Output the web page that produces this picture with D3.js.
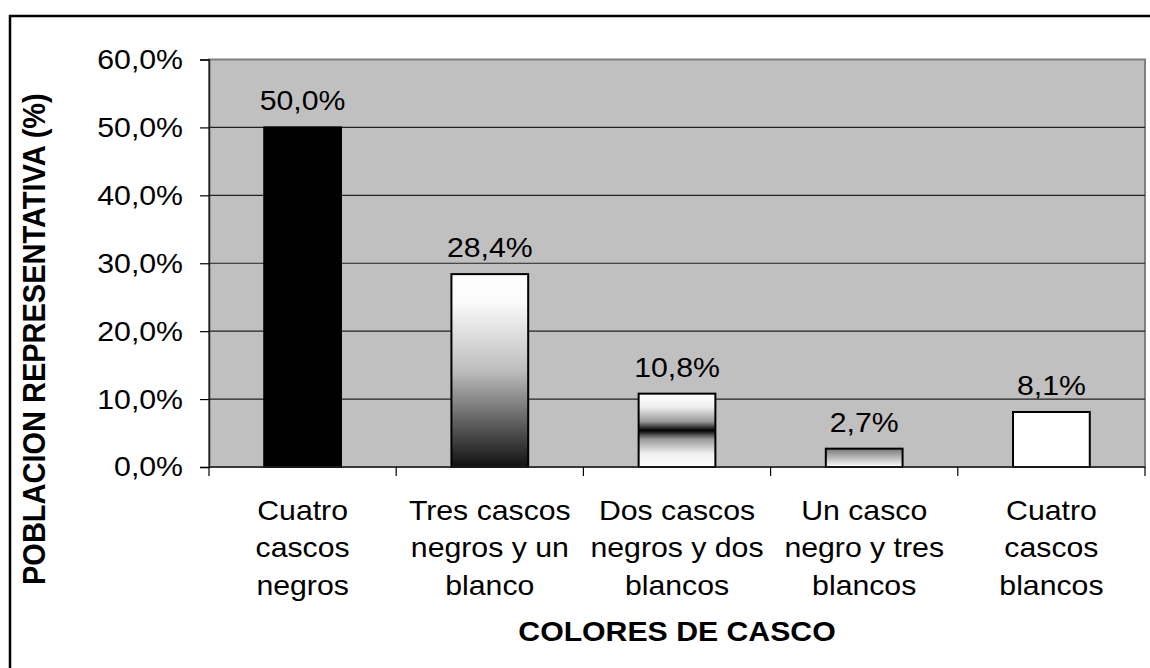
<!DOCTYPE html>
<html>
<head>
<meta charset="utf-8">
<script src="https://cdn.jsdelivr.net/npm/d3@7"></script>
<style>
  body { margin: 0; background: #fff; }
  svg text { font-family: "Liberation Sans", Arial, sans-serif; fill: #000; }
</style>
</head>
<body>
<svg width="1150" height="668"></svg>
<script>
// data
const categories = [
    ["Cuatro", "cascos", "negros"],
    ["Tres cascos", "negros y un", "blanco"],
    ["Dos cascos", "negros y dos", "blancos"],
    ["Un casco", "negro y tres", "blancos"],
    ["Cuatro", "cascos", "blancos"]
];
const values = [50.0, 28.4, 10.8, 2.7, 8.1];
const yTicks = [0, 10, 20, 30, 40, 50, 60];
const fills = ["#000", "url(#g2)", "url(#g3)", "url(#g4)", "#fff"];

const fmt = v => v.toFixed(1).replace(".", ",") + "%";
const sx = 1.08; // picture is a bit wider than tall

const plot = { left: 209, top: 59.5, right: 1145, bottom: 467 };
const svg = d3.select("svg");

// gradients
const defs = svg.append("defs");
function grad(id, stops) {
    const g = defs.append("linearGradient").attr("id", id)
        .attr("x1", 0).attr("y1", 0).attr("x2", 0).attr("y2", 1);
    stops.forEach(s => g.append("stop").attr("offset", s[0]).attr("stop-color", s[1]));
}
grad("g2", [[0, "#ffffff"], [0.15, "#fafafa"], [0.5, "#bdbdbd"], [0.8, "#555"], [1, "#111"]]);
grad("g3", [[0, "#ffffff"], [0.18, "#f0f0f0"], [0.38, "#999"], [0.5, "#000"], [0.62, "#999"], [0.82, "#f0f0f0"], [1, "#ffffff"]]);
grad("g4", [[0, "#777"], [1, "#fff"]]);

// outer frame
svg.append("rect")
    .attr("x", 10).attr("y", 16)
    .attr("width", 1300).attr("height", 800)
    .attr("fill", "none").attr("stroke", "#000").attr("stroke-width", 2.5);

const x = d3.scaleBand()
    .domain(d3.range(categories.length))
    .range([plot.left, plot.right])
    .padding(0);

const y = d3.scaleLinear()
    .domain([0, 60])
    .range([plot.bottom, plot.top]);

// plot area
svg.append("rect")
    .attr("x", plot.left).attr("y", plot.top)
    .attr("width", plot.right - plot.left).attr("height", plot.bottom - plot.top)
    .attr("fill", "#c0c0c0").attr("stroke", "#808080").attr("stroke-width", 2);

// gridlines
svg.append("g").selectAll("line").data(yTicks.filter(d => d > 0))
    .join("line")
    .attr("x1", plot.left).attr("x2", plot.right)
    .attr("y1", d => y(d)).attr("y2", d => y(d))
    .attr("stroke", d => d === 60 ? "#808080" : "#222").attr("stroke-width", 1.2);

// bars
const barW = x.bandwidth() * 0.41;
svg.append("g").selectAll("rect").data(values)
    .join("rect")
    .attr("x", (d, i) => x(i) + (x.bandwidth() - barW) / 2)
    .attr("y", d => y(d))
    .attr("width", barW)
    .attr("height", d => y(0) - y(d))
    .attr("fill", (d, i) => fills[i])
    .attr("stroke", "#000").attr("stroke-width", 2);

// value labels
svg.append("g").selectAll("text").data(values)
    .join("text")
    .attr("transform", (d, i) => `translate(${x(i) + x.bandwidth() / 2}, ${y(d) - 17}) scale(${sx},1)`)
    .attr("text-anchor", "middle")
    .style("font-size", "28px")
    .text(d => fmt(d));

// y axis
const yAxis = svg.append("g")
    .attr("transform", `translate(${plot.left}, 0)`)
    .call(d3.axisLeft(y).tickValues(yTicks).tickSize(9).tickPadding(17).tickFormat(fmt));
yAxis.select(".domain").attr("stroke", "#222").attr("stroke-width", 1.5);
yAxis.selectAll(".tick line").attr("stroke", "#000").attr("stroke-width", 1.2);
yAxis.selectAll(".tick text")
    .attr("font-family", null).attr("font-size", null)
    .style("font-size", "28px")
    .attr("transform", function () {
        const tx = +d3.select(this).attr("x");
        return `translate(${tx},0) scale(${sx},1)`;
    })
    .attr("x", 0);

// x axis line + ticks at category boundaries
svg.append("line")
    .attr("x1", plot.left).attr("x2", plot.right)
    .attr("y1", plot.bottom).attr("y2", plot.bottom)
    .attr("stroke", "#222").attr("stroke-width", 1.5);
svg.append("g").selectAll("line").data(d3.range(categories.length + 1))
    .join("line")
    .attr("x1", i => plot.left + i * x.bandwidth())
    .attr("x2", i => plot.left + i * x.bandwidth())
    .attr("y1", plot.bottom).attr("y2", plot.bottom + 9)
    .attr("stroke", "#000").attr("stroke-width", 1.2);

// category labels
const catLabels = svg.append("g").selectAll("text").data(categories)
    .join("text")
    .attr("transform", (d, i) => `translate(${x(i) + x.bandwidth() / 2}, 520) scale(${sx},1)`)
    .attr("text-anchor", "middle")
    .style("font-size", "28px");
catLabels.selectAll("tspan").data(d => d)
    .join("tspan")
    .attr("x", 0)
    .attr("y", (d, j) => j * 37.5)
    .text(d => d);

// axis titles
svg.append("text")
    .attr("transform", `translate(${(plot.left + plot.right) / 2}, 641) scale(${sx},1)`)
    .attr("text-anchor", "middle")
    .style("font-size", "28px").style("font-weight", "bold")
    .text("COLORES DE CASCO");

svg.append("text")
    .attr("transform", `translate(45, 585) rotate(-90) scale(1,${sx})`)
    .attr("text-anchor", "start")
    .style("font-size", "29px").style("font-weight", "bold")
    .text("POBLACION REPRESENTATIVA (%)");
</script>
</body>
</html>
